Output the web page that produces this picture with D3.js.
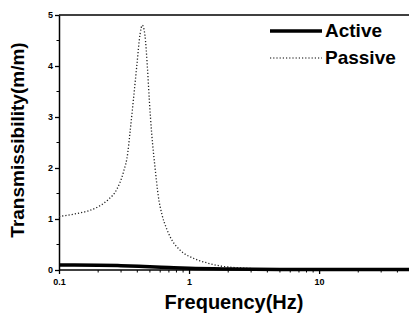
<!DOCTYPE html>
<html>
<head>
<meta charset="utf-8">
<script src="https://cdn.jsdelivr.net/npm/d3@7"></script>
<style>
  body { margin: 0; background: #fff; }
  svg { font-family: 'Liberation Sans', Arial, sans-serif; }
</style>
</head>
<body>
<div class="graph"></div>
<script>
// values
var passiveFreq = [0.1, 0.133, 0.168, 0.2, 0.239, 0.278, 0.313, 0.338, 0.351, 0.373, 0.396, 0.42, 0.437,
                   0.458, 0.478, 0.495, 0.516, 0.548, 0.58, 0.62, 0.665, 0.716, 0.852, 1.08, 1.37, 1.73, 2.33, 3, 5, 10, 50];
var passiveVal  = [1.05, 1.10, 1.16, 1.24, 1.38, 1.58, 1.92, 2.3, 2.68, 3.33, 3.99, 4.62, 4.8,
                   4.6, 3.99, 3.33, 2.68, 2.0, 1.45, 1.08, 0.84, 0.65, 0.39, 0.23, 0.14, 0.08, 0.045, 0.03, 0.015, 0.008, 0.003];
var activeFreq = [0.1, 0.2, 0.3, 0.45, 0.7, 1, 2, 5, 50];
var activeVal  = [0.1, 0.095, 0.085, 0.07, 0.05, 0.035, 0.02, 0.012, 0.008];
var yTicks = [0, 1, 2, 3, 4, 5];
var xTicks = [0.1, 1, 10];
var xTickLabels = ['0.1', '1', '10'];
var legendNames = ['Active', 'Passive'];

var W = 409, H = 316;
var x = d3.scaleLog().domain([0.1, 50]).range([59, 410]);
var y = d3.scaleLinear().domain([0, 5]).range([270, 15]);

var svg = d3.select('div.graph').append('svg')
    .attr('width', W)
    .attr('height', H);

// frame lines (bottom + top, no right axis visible)
svg.append('line')
    .attr('x1', x(0.1)).attr('x2', W)
    .attr('y1', y(0)).attr('y2', y(0))
    .attr('stroke', '#000').attr('stroke-width', 1.5);
svg.append('line')
    .attr('x1', x(0.1)).attr('x2', W)
    .attr('y1', y(5)).attr('y2', y(5))
    .attr('stroke', '#000').attr('stroke-width', 1.5);

// x axis
var minorX = [];
[0.1, 1, 10].forEach(function(d) {
    for (var k = 2; k <= 9; k++) if (d * k <= 50) minorX.push(d * k);
});
var xAxis = svg.append('g')
    .attr('transform', 'translate(0,' + y(0) + ')')
    .call(d3.axisBottom(x).tickValues(xTicks).tickFormat(function(d, i) { return xTickLabels[i]; })
        .tickSize(4).tickSizeOuter(0));
xAxis.select('.domain').remove();
xAxis.selectAll('text')
    .style('font-size', '9px')
    .style('font-weight', 'bold')
    .attr('dy', '0.75em')
    .attr('y', 8);
xAxis.selectAll('line').attr('stroke-width', 1.3);
svg.append('g')
    .attr('transform', 'translate(0,' + y(0) + ')')
    .selectAll('line.minor')
    .data(minorX)
    .enter()
    .append('line')
        .attr('x1', function(d) { return x(d); })
        .attr('x2', function(d) { return x(d); })
        .attr('y1', 0).attr('y2', 2.5)
        .attr('stroke', '#000').attr('stroke-width', 1);

// y axis
var yAxis = svg.append('g')
    .attr('transform', 'translate(' + x(0.1) + ',0)')
    .call(d3.axisLeft(y).tickValues(yTicks).tickFormat(d3.format('d')).tickSize(4).tickSizeOuter(0));
yAxis.select('.domain').attr('stroke-width', 1.5);
yAxis.selectAll('text')
    .style('font-size', '9px')
    .style('font-weight', 'bold')
    .attr('x', -6);
yAxis.selectAll('line').attr('stroke-width', 1.3);
svg.append('g')
    .attr('transform', 'translate(' + x(0.1) + ',0)')
    .selectAll('line.minor')
    .data(d3.range(0.5, 5, 1))
    .enter()
    .append('line')
        .attr('x1', -2.5).attr('x2', 0)
        .attr('y1', function(d) { return y(d); })
        .attr('y2', function(d) { return y(d); })
        .attr('stroke', '#000').attr('stroke-width', 1);

// axis titles
svg.append('text')
    .attr('x', 234)
    .attr('y', 309)
    .attr('text-anchor', 'middle')
    .style('font-size', '20px')
    .style('font-weight', 'bold')
    .text('Frequency(Hz)');
svg.append('text')
    .attr('transform', 'translate(24,140) rotate(-90)')
    .attr('text-anchor', 'middle')
    .style('font-size', '19px')
    .style('font-weight', 'bold')
    .text('Transmissibility(m/m)');

// curves
var line = d3.line()
    .x(function(d) { return x(d[0]); })
    .y(function(d) { return y(d[1]); })
    .curve(d3.curveMonotoneX);

svg.append('path')
    .datum(passiveFreq.map(function(f, i) { return [f, passiveVal[i]]; }))
    .attr('d', line)
    .attr('fill', 'none')
    .attr('stroke', '#222')
    .attr('stroke-width', 1.3)
    .attr('stroke-dasharray', '1.2,2');

svg.append('path')
    .datum(activeFreq.map(function(f, i) { return [f, activeVal[i]]; }))
    .attr('d', line)
    .attr('fill', 'none')
    .attr('stroke', '#000')
    .attr('stroke-width', 3.5);

// legend
var leg = svg.append('g');
leg.selectAll('line')
    .data(legendNames)
    .enter()
    .append('line')
        .attr('x1', 270).attr('x2', 322)
        .attr('y1', function(d, i) { return 31 + i * 27; })
        .attr('y2', function(d, i) { return 31 + i * 27; })
        .attr('stroke', '#000')
        .attr('stroke-width', function(d, i) { return i ? 1.2 : 3.5; })
        .attr('stroke-dasharray', function(d, i) { return i ? '1.2,2' : null; });
leg.selectAll('text')
    .data(legendNames)
    .enter()
    .append('text')
        .attr('x', 325)
        .attr('y', function(d, i) { return 37 + i * 27; })
        .style('font-size', '19px')
        .style('font-weight', 'bold')
        .text(function(d) { return d; });
</script>
</body>
</html>
